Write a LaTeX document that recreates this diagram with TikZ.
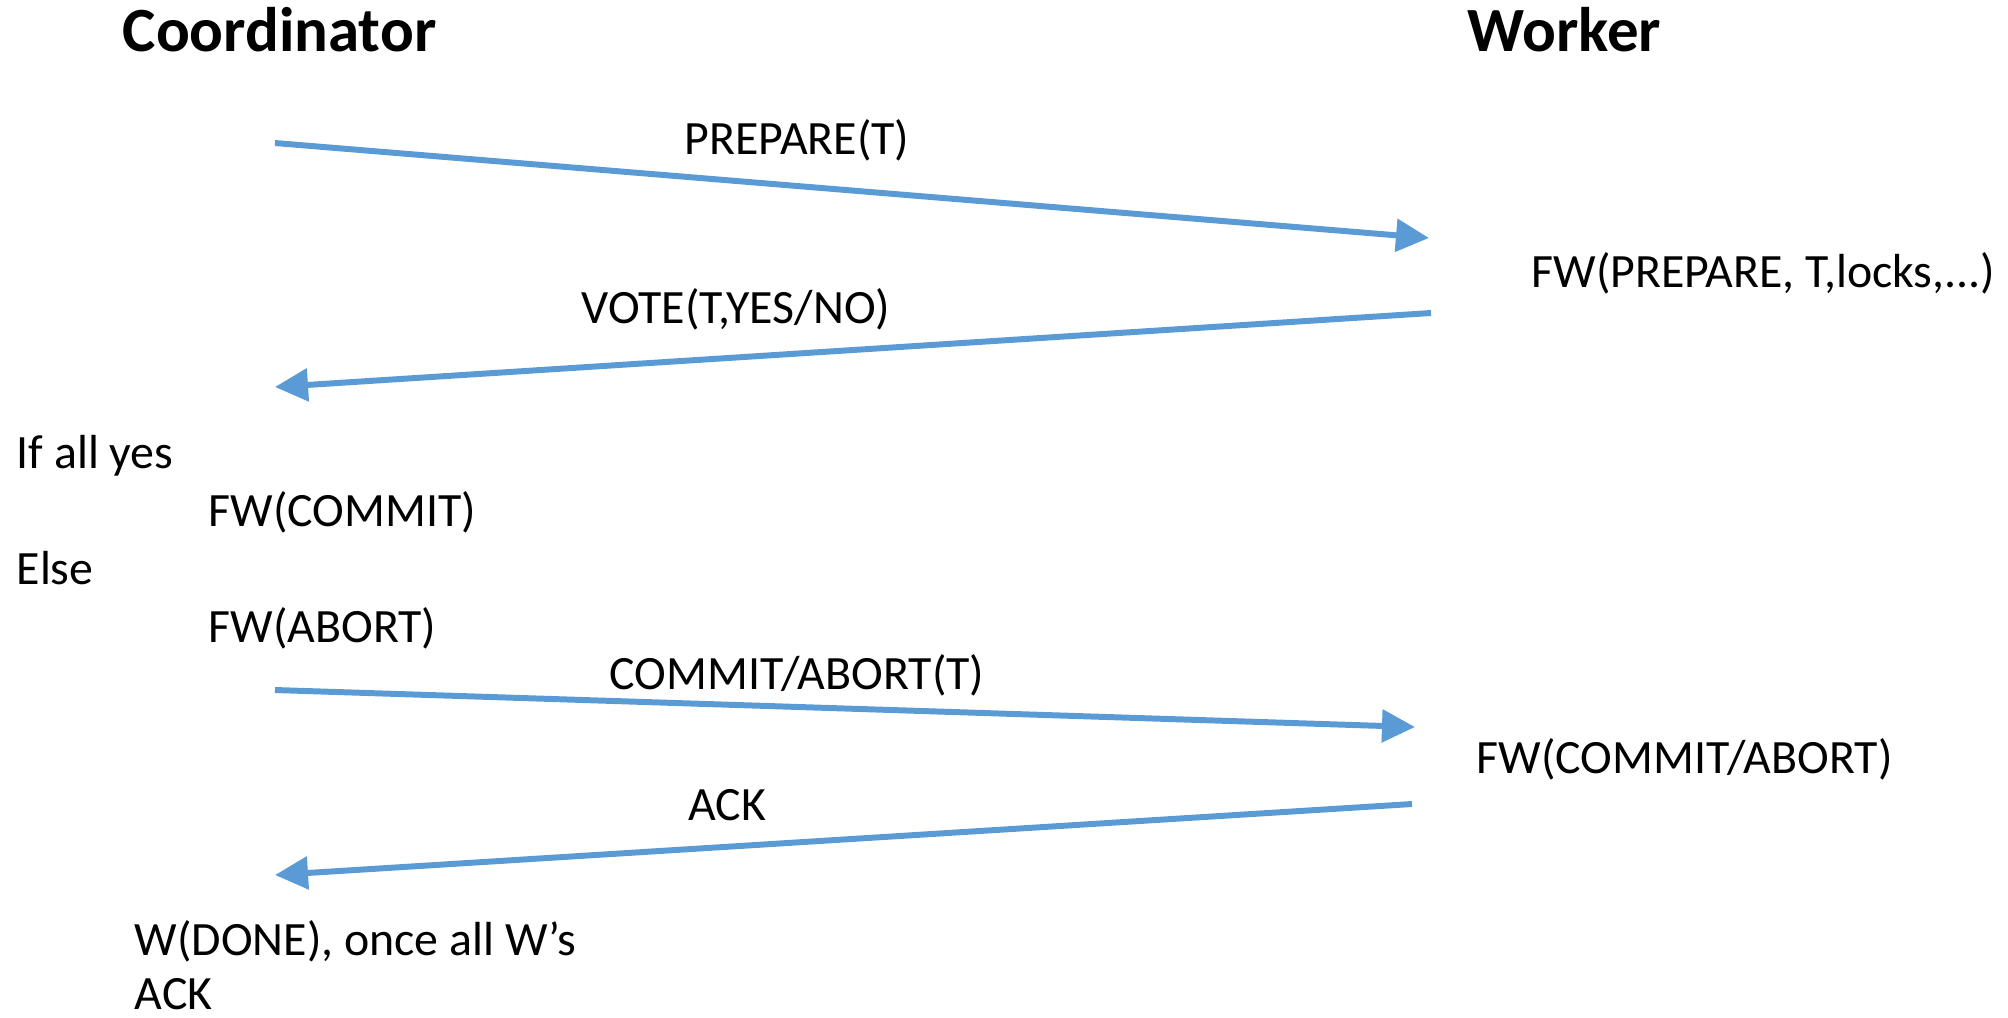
\documentclass[tikz,border=0pt]{standalone}
\usepackage{fontspec}
\setmainfont{Carlito}
\usetikzlibrary{arrows.meta}
\definecolor{msgblue}{HTML}{5B9BD5}
\begin{document}
\begin{tikzpicture}[x=0.01cm, y=-0.01cm,
  txt/.style={inner sep=0pt, anchor=base west, font=\fontsize{13.6pt}{16pt}\selectfont},
  lbl/.style={inner sep=0pt, anchor=base, font=\fontsize{13.6pt}{16pt}\selectfont},
  role/.style={inner sep=0pt, anchor=base west, font=\fontsize{17.9pt}{20pt}\selectfont\bfseries},
  msg/.style={draw=msgblue, line width=1.7pt, -{Triangle[length=0.33cm, width=0.32cm]}}]
  \useasboundingbox (0,0) rectangle (2008,1017);

  % participants
  \node[role] (coord) at (122,51) {Coordinator};
  \node[role] (worker) at (1467,51) {Worker};

  % message end points
  \coordinate (p1) at (275,143);  \coordinate (p2) at (1429,238);
  \coordinate (v1) at (1431,313); \coordinate (v2) at (275,387);
  \coordinate (c1) at (275,690);  \coordinate (c2) at (1415,727);
  \coordinate (k1) at (1412,804); \coordinate (k2) at (275,875);

  % messages
  \draw[msg] (p1) -- (p2);
  \draw[msg] (v1) -- (v2);
  \draw[msg] (c1) -- (c2);
  \draw[msg] (k1) -- (k2);

  % message labels
  \node[lbl] (lprep) at (797,154) {PREPARE(T)};
  \node[lbl] (lvote) at (736,323) {VOTE(T,YES/NO)};
  \node[lbl] (lcom) at (797,689) {COMMIT/ABORT(T)};
  \node[lbl] (lack) at (727,820) {ACK};

  % worker log writes
  \node[txt] (wprep) at (1531,287) {FW(PREPARE, T,locks,...)};
  \node[txt] (wcom) at (1476,773) {FW(COMMIT/ABORT)};

  % coordinator decision
  \node[txt] (ifyes) at (16,468) {If all yes};
  \node[txt] (fwc) at (208,526) {FW(COMMIT)};
  \node[txt] (els) at (16,584) {Else};
  \node[txt] (fwa) at (208,642) {FW(ABORT)};
  \node[txt] (done1) at (134,955) {W(DONE), once all W’s};
  \node[txt] (done2) at (134,1009) {ACK};
\end{tikzpicture}
\end{document}
